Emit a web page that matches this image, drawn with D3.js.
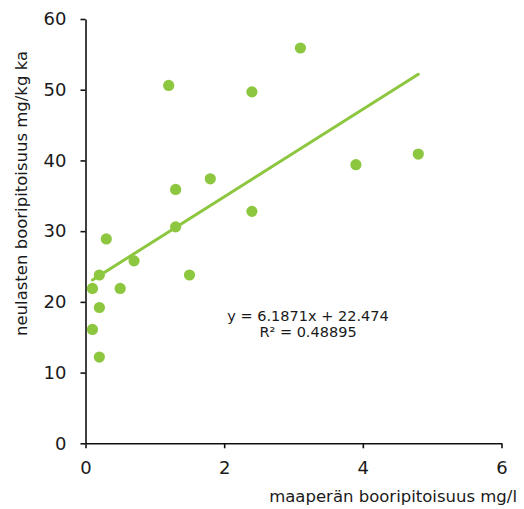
<!DOCTYPE html>
<html>
<head>
  <meta charset="utf-8">
  <title>Booripitoisuus</title>
  <script src="https://d3js.org/d3.v7.min.js"></script>
  <style>
    body { margin: 0; background: #fff; }
    svg { display: block; font-family: "DejaVu Sans", sans-serif; }
  </style>
</head>
<body>
  <svg width="524" height="509"></svg>
  <script>
    // data
    var soilBoron = [1.2, 2.4, 1.3, 1.8, 2.4, 1.3, 0.3, 0.7, 0.2, 1.5, 0.1, 0.5, 0.2, 0.1, 0.2, 3.1, 3.9, 4.8];
    var needleBoron = [50.6, 49.7, 35.9, 37.4, 32.8, 30.6, 28.9, 25.8, 23.8, 23.8, 21.9, 21.9, 19.2, 16.1, 12.2, 55.9, 39.4, 40.9];
    var xTicks = [0, 2, 4, 6];
    var yTicks = [0, 10, 20, 30, 40, 50, 60];
    var slope = 6.1871;
    var intercept = 22.474;
    var eqLabel = "y = 6.1871x + 22.474";
    var r2Label = "R\u00b2 = 0.48895";
    var xTitle = "maaperän booripitoisuus mg/l";
    var yTitle = "neulasten booripitoisuus mg/kg ka";

    var green = "#8dc63f";
    var svg = d3.select("svg");
    var margin = { top: 19, left: 85.5 };
    var width = 416, height = 424.3;
    var g = svg.append("g").attr("transform", "translate(" + margin.left + "," + margin.top + ")");

    var x = d3.scaleLinear().domain([0, 6]).range([0, width]);
    var y = d3.scaleLinear().domain([0, 60]).range([height, 0]);

    // akselit
    var yAxis = g.append("g")
      .call(d3.axisLeft(y).tickValues(yTicks).tickFormat(d3.format("d"))
        .tickSize(5).tickPadding(14).tickSizeOuter(0));
    var xAxis = g.append("g")
      .attr("transform", "translate(0," + height + ")")
      .call(d3.axisBottom(x).tickValues(xTicks).tickFormat(d3.format("d"))
        .tickSize(5).tickPadding(13).tickSizeOuter(0));

    [xAxis, yAxis].forEach(function (a) {
      a.selectAll(".domain").attr("stroke", "#111").attr("stroke-width", 1.6);
      a.selectAll(".tick line").attr("stroke", "#111").attr("stroke-width", 1.6);
      a.selectAll(".tick text").attr("fill", "#1a1a1a")
        .style("font-size", "18px").style("font-family", "DejaVu Sans, sans-serif");
    });

    // trendiviiva
    var xMin = d3.min(soilBoron), xMax = d3.max(soilBoron);
    g.append("line")
      .attr("x1", x(xMin)).attr("y1", y(slope * xMin + intercept))
      .attr("x2", x(xMax)).attr("y2", y(slope * xMax + intercept))
      .attr("stroke", green)
      .attr("stroke-width", 3)
      .attr("stroke-linecap", "round");

    // pisteet
    g.selectAll(".dot")
      .data(soilBoron)
      .enter()
      .append("circle")
      .attr("class", "dot")
      .attr("cx", function (d) { return x(d); })
      .attr("cy", function (d, i) { return y(needleBoron[i]); })
      .attr("r", 5.6)
      .attr("fill", green);

    // yhtälö
    svg.append("text")
      .attr("x", 308).attr("y", 321)
      .attr("text-anchor", "middle")
      .attr("fill", "#1a1a1a")
      .style("font-size", "14.5px")
      .text(eqLabel);
    svg.append("text")
      .attr("x", 308).attr("y", 337)
      .attr("text-anchor", "middle")
      .attr("fill", "#1a1a1a")
      .style("font-size", "14.5px")
      .text(r2Label);

    // akselien otsikot
    svg.append("text")
      .attr("x", 517).attr("y", 502)
      .attr("text-anchor", "end")
      .attr("fill", "#1a1a1a")
      .style("font-size", "16.5px")
      .text(xTitle);
    svg.append("text")
      .attr("transform", "translate(27,193.5) rotate(-90)")
      .attr("text-anchor", "middle")
      .attr("fill", "#1a1a1a")
      .style("font-size", "16.5px")
      .text(yTitle);
  </script>
</body>
</html>
